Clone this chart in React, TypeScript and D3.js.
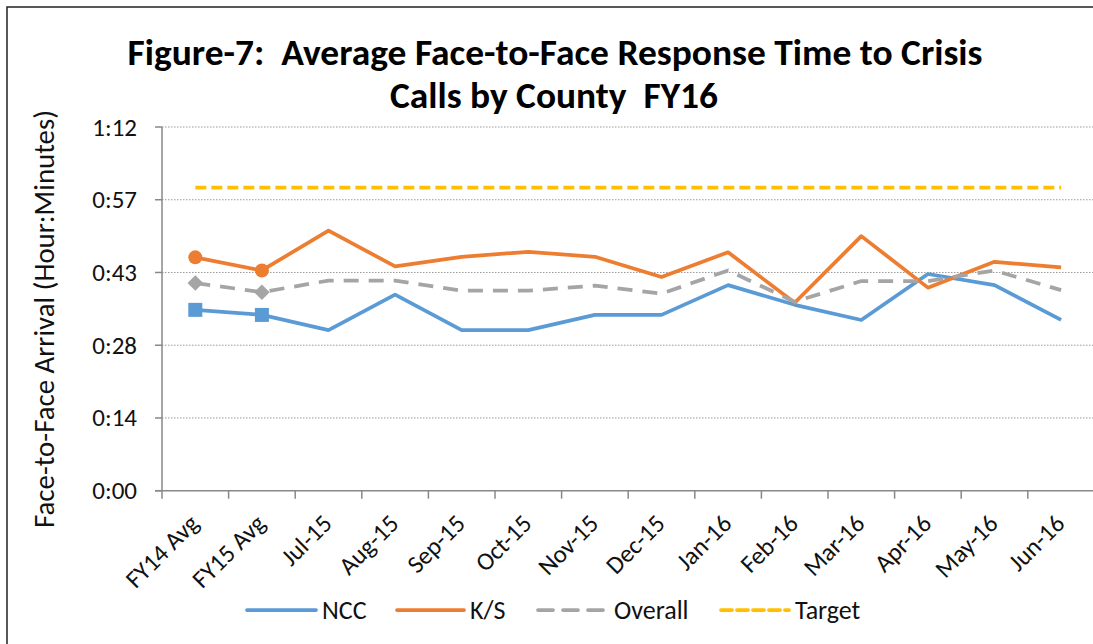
import React from "react";
import * as d3 from "d3";

const categories = [
  "FY14 Avg", "FY15 Avg", "Jul-15", "Aug-15", "Sep-15", "Oct-15", "Nov-15",
  "Dec-15", "Jan-16", "Feb-16", "Mar-16", "Apr-16", "May-16", "Jun-16",
];
// minutes
const ncc = [35.8, 34.8, 31.8, 38.8, 31.8, 31.8, 34.8, 34.8, 40.7, 36.8, 33.8, 42.9, 40.7, 33.8];
const ks = [46.2, 43.6, 51.5, 44.4, 46.3, 47.3, 46.3, 42.3, 47.2, 37.2, 50.4, 40.2, 45.3, 44.2];
const overall = [41.1, 39.3, 41.6, 41.6, 39.6, 39.6, 40.6, 39.0, 43.6, 37.4, 41.5, 41.5, 43.6, 39.7];
const target = [60, 60, 60, 60, 60, 60, 60, 60, 60, 60, 60, 60, 60, 60];
const yTicks = [0, 14.4, 28.8, 43.2, 57.6, 72];
const yTickLabels = ["0:00", "0:14", "0:28", "0:43", "0:57", "1:12"];

const W = 1093;
const H = 644;
const FONT = "Carlito, Calibri, 'Open Sans', 'Noto Sans', sans-serif";

const BLUE = "#5B9BD5";
const ORANGE = "#ED7D31";
const GRAY = "#A5A5A5";
const GOLD = "#FFC000";

const App = () => {
  const x = d3.scaleBand<string>().domain(categories).range([162, 162 + 14 * 66.6]);
  const y = d3.scaleLinear().domain([0, 72]).range([490.7, 127]);
  const cx = (c: string) => (x(c) ?? 0) + x.bandwidth() / 2;

  const line = d3
    .line<number>()
    .x((_, i) => cx(categories[i]))
    .y((d) => y(d));

  const series = [
    { name: "NCC", data: ncc, color: BLUE, dash: undefined as string | undefined },
    { name: "K/S", data: ks, color: ORANGE, dash: undefined },
    { name: "Overall", data: overall, color: GRAY, dash: "15 10" },
    { name: "Target", data: target, color: GOLD, dash: "11 5" },
  ];

  const legendX = [247, 397, 538, 721];
  const legendW = [69, 67, 70, 68];

  return (
    <svg
      width={W}
      height={H}
      style={{ position: "absolute", left: 0, top: 0, background: "#fff" }}
      fontFamily={FONT}
    >
      <rect x={7} y={7} width={W + 20} height={H + 20} fill="none" stroke="#222" strokeWidth={1.5} />

      <text x={555} y={65} textAnchor="middle" fontSize={36} fontWeight="bold" textLength={855} lengthAdjust="spacingAndGlyphs" style={{ whiteSpace: "pre" }}>
        Figure-7:  Average Face-to-Face Response Time to Crisis
      </text>
      <text x={554} y={108} textAnchor="middle" fontSize={36} fontWeight="bold" textLength={328} lengthAdjust="spacingAndGlyphs" style={{ whiteSpace: "pre" }}>
        Calls by County  FY16
      </text>

      {/* gridlines */}
      {yTicks.slice(1).map((t) => (
        <line key={t} x1={162} x2={W} y1={y(t)} y2={y(t)} stroke="#999" strokeWidth={1} strokeDasharray="1.5 1.5" />
      ))}

      {/* y axis */}
      <line x1={162} x2={162} y1={y(72)} y2={y(0)} stroke="#888" strokeWidth={1.5} />
      {yTicks.map((t, i) => (
        <g key={t}>
          <line x1={155} x2={162} y1={y(t)} y2={y(t)} stroke="#888" strokeWidth={1.5} />
          <text x={137} y={y(t) + 8.5} textAnchor="end" fontSize={25} fill="#111">
            {yTickLabels[i]}
          </text>
        </g>
      ))}
      <text
        transform={`translate(54, 319) rotate(-90)`}
        textAnchor="middle"
        fontSize={29}
        fill="#111"
        textLength={418}
        lengthAdjust="spacingAndGlyphs"
      >
        Face-to-Face Arrival (Hour:Minutes)
      </text>

      {/* x axis */}
      <line x1={155} x2={W} y1={y(0)} y2={y(0)} stroke="#888" strokeWidth={1.5} />
      {categories.map((c) => (
        <line key={c} x1={x(c)!} x2={x(c)!} y1={y(0)} y2={y(0) + 8} stroke="#888" strokeWidth={1.5} />
      ))}
      {categories.map((c) => (
        <text
          key={c}
          transform={`translate(${cx(c) + 5}, 525) rotate(-45)`}
          textAnchor="end"
          fontSize={25}
          fill="#111"
        >
          {c}
        </text>
      ))}

      {/* series */}
      {series.map((s) => (
        <path
          key={s.name}
          d={line(s.data)!}
          fill="none"
          stroke={s.color}
          strokeWidth={3.75}
          strokeDasharray={s.dash}
          strokeLinejoin="round"
        />
      ))}

      {/* markers on the FY averages */}
      {[0, 1].map((i) => (
        <g key={i}>
          <rect x={cx(categories[i]) - 7} y={y(ncc[i]) - 7} width={14} height={14} fill={BLUE} />
          <circle cx={cx(categories[i])} cy={y(ks[i])} r={7} fill={ORANGE} />
          <rect
            x={-5.5}
            y={-5.5}
            width={11}
            height={11}
            fill={GRAY}
            transform={`translate(${cx(categories[i])}, ${y(overall[i])}) rotate(45)`}
          />
        </g>
      ))}

      {/* legend */}
      {series.map((s, i) => (
        <g key={s.name}>
          <line
            x1={legendX[i]}
            x2={legendX[i] + legendW[i]}
            y1={610}
            y2={610}
            stroke={s.color}
            strokeWidth={3.75}
            strokeDasharray={s.dash}
            strokeLinecap="round"
          />
          <text x={legendX[i] + legendW[i] + 6} y={618.5} fontSize={26} fill="#111">
            {s.name}
          </text>
        </g>
      ))}
    </svg>
  );
};

export default App;
